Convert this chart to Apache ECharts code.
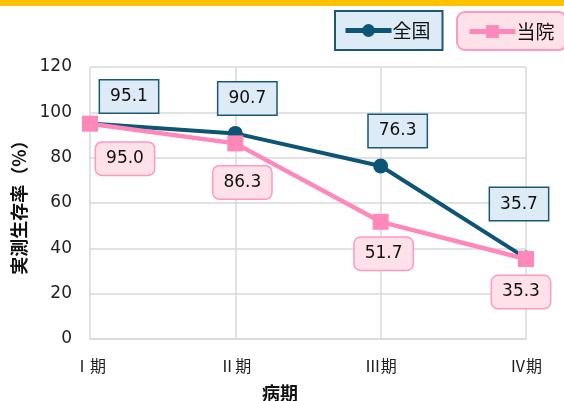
<!DOCTYPE html>
<html>
<head>
<meta charset="utf-8">
<script src="https://cdn.jsdelivr.net/npm/echarts@6/dist/echarts.min.js"></script>
<style>
  html, body { margin: 0; padding: 0; background: #fff; }
  #chart { width: 564px; height: 401px; }
</style>
</head>
<body>
<div id="chart"></div>
<script>
// Stage categories and survival rates (%)
const stages = ['Ⅰ期', 'Ⅱ期', 'Ⅲ期', 'Ⅳ期'];
const nationalRates = [95.1, 90.7, 76.3, 35.7];
const hospitalRates = [95.0, 86.3, 51.7, 35.3];
const yTicks = { min: 0, max: 120, interval: 20 };

// Label offsets from each point (pixels), so boxes avoid the lines
const nationalLabelOffsets = [[39, -27], [12, -35], [17, -35], [-7, -54]];
const hospitalLabelOffsets = [[35, 35], [7, 39], [3, 32], [-5, 33]];

const NAVY = '#0D5575';
const PINK = '#FF88BB';
const FONT = '"DejaVu Sans", Verdana, "Noto Sans CJK JP", sans-serif';
const CJK = '"Noto Sans CJK JP", sans-serif';

function withLabels(values, offsets, labelStyle) {
  return values.map((v, i) => ({
    value: v,
    label: Object.assign({}, labelStyle, { offset: offsets[i] })
  }));
}

const navyLabel = {
  show: true,
  position: 'inside',
  formatter: p => p.value.toFixed(1),
  fontFamily: FONT,
  fontSize: 17,
  lineHeight: 20,
  color: '#111',
  backgroundColor: '#DDEBF7',
  borderColor: '#1A5874',
  borderWidth: 1.5,
  padding: [6, 10, 6, 10]
};
const pinkLabel = {
  show: true,
  position: 'inside',
  formatter: p => p.value.toFixed(1),
  fontFamily: FONT,
  fontSize: 17,
  lineHeight: 20,
  color: '#111',
  backgroundColor: '#FFE1EA',
  borderColor: '#FF99C2',
  borderWidth: 1.5,
  borderRadius: 6,
  padding: [6, 10, 6, 10]
};

const chart = echarts.init(document.getElementById('chart'));
chart.setOption({
  animation: false,
  graphic: [{
    type: 'rect',
    shape: { x: 0, y: 0, width: 564, height: 6 },
    style: { fill: '#FFC000' },
    silent: true
  }],
  legend: [{
    data: ['全国'],
    left: 335, top: 11,
    padding: [10, 12, 10, 8],
    itemWidth: 46, itemHeight: 16,
    itemGap: 0,
    backgroundColor: '#DDEBF7',
    borderColor: '#1A5874',
    borderWidth: 2,
    lineStyle: { width: 5 },
    textStyle: { fontFamily: CJK, fontSize: 19, color: '#111', padding: [0, 0, 0, -4] }
  }, {
    data: ['当院'],
    left: 457, top: 12,
    padding: [10, 12, 9, 10],
    itemWidth: 46, itemHeight: 16,
    backgroundColor: '#FFE1EA',
    borderColor: '#FF99C2',
    borderWidth: 2,
    borderRadius: 8,
    lineStyle: { width: 5 },
    textStyle: { fontFamily: CJK, fontSize: 19, color: '#111', padding: [0, 0, 0, -4] }
  }],
  grid: { left: 90, right: 38, top: 67, bottom: 62, containLabel: false, outerBoundsMode: 'none' },
  xAxis: {
    type: 'category',
    data: stages,
    boundaryGap: false,
    name: '病期',
    nameLocation: 'middle',
    nameGap: 45,
    nameTextStyle: { fontFamily: CJK, fontSize: 18, fontWeight: 'bold', color: '#111', padding: [0, 56, 0, 0] },
    axisLine: { show: true, lineStyle: { color: '#D9D9D9', width: 1.5 } },
    axisTick: { show: false },
    axisLabel: { fontFamily: CJK, fontSize: 16, color: '#222', margin: 19 },
    splitLine: { show: true, lineStyle: { color: '#D9D9D9', width: 1.5 } }
  },
  yAxis: {
    type: 'value',
    min: yTicks.min, max: yTicks.max, interval: yTicks.interval,
    name: '実測生存率（%）',
    nameLocation: 'middle',
    nameGap: 60,
    nameTextStyle: { fontFamily: CJK, fontSize: 18, fontWeight: 'bold', color: '#111' },
    axisLine: { show: false },
    axisTick: { show: false },
    axisLabel: { fontFamily: FONT, fontSize: 17, color: '#222', margin: 18 },
    splitLine: { show: true, lineStyle: { color: '#D9D9D9', width: 1.5 } }
  },
  series: [{
    name: '全国',
    type: 'line',
    data: withLabels(nationalRates, nationalLabelOffsets, navyLabel),
    symbol: 'circle',
    symbolSize: 15,
    lineStyle: { color: NAVY, width: 4 },
    itemStyle: { color: NAVY },
    z: 3
  }, {
    name: '当院',
    type: 'line',
    data: withLabels(hospitalRates, hospitalLabelOffsets, pinkLabel),
    symbol: 'rect',
    symbolSize: 16,
    lineStyle: { color: PINK, width: 4.5 },
    itemStyle: { color: PINK },
    z: 4
  }]
});
</script>
</body>
</html>
